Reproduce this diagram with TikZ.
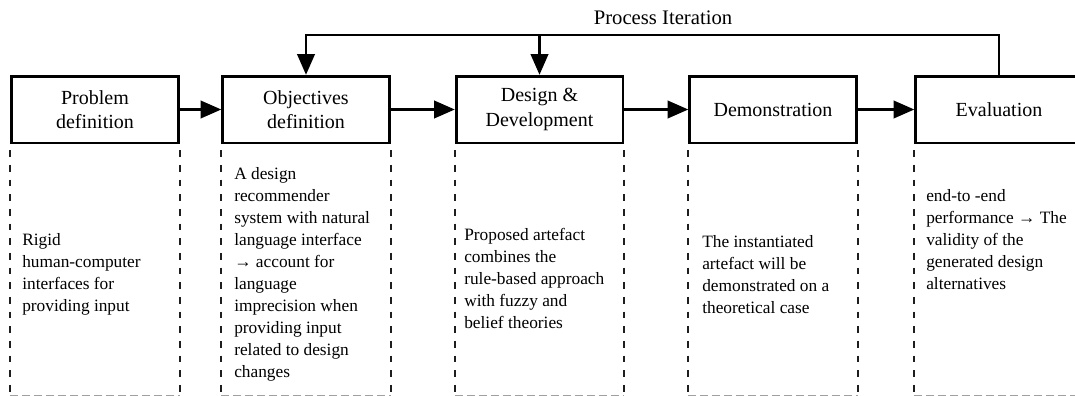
\documentclass[tikz,border=0pt]{standalone}
\usepackage{fontspec}
\setmainfont{Liberation Serif}
\usetikzlibrary{arrows.meta}
\definecolor{LaneClr}{RGB}{30,30,30}
\definecolor{FloorClr}{RGB}{160,160,160}

\begin{document}
\begin{tikzpicture}[x=0.75pt,y=-0.75pt,
  stage/.style={draw,line width=2pt,minimum width=125pt,minimum height=50pt,
    align=center,inner sep=0pt,font=\fontsize{15}{18.5}\selectfont},
  note/.style={anchor=west,align=left,inner sep=0pt,
    font=\fontsize{13}{16.5}\selectfont},
  flow/.style={line width=2pt,-{Triangle[length=15.5pt,width=13pt]}},
  lane/.style={line width=1.6pt,color=LaneClr,dash pattern=on 5pt off 6pt},
  floor/.style={line width=1.5pt,color=FloorClr,dash pattern=on 6pt off 3pt}]

\useasboundingbox (0,0) rectangle (1075,396);
\clip (0,0) rectangle (1075,396);

\coordinate (top) at (0,35);
\coordinate (low) at (0,395.5);

\node[stage] (A) at (95,109.5) {Problem\\definition};
\node[stage] (B) at (306,109.5) {Objectives\\definition};
\node[stage] (C) at (539.5,109.5) {Design \&\\Development};
\node[stage] (D) at (773,109.5) {Demonstration};
\node[stage] (E) at (999,109.5) {Evaluation};

\node[font=\fontsize{15.5}{18}\selectfont] (iter) at (663,18) {Process Iteration};

\draw[flow] (A) -- (B);
\draw[flow] (B) -- (C);
\draw[flow] (C) -- (D);
\draw[flow] (D) -- (E);

\draw[flow] (E.north) |- (B.north |- top) -- (B.north);
\draw[flow] (C.north |- top) -- (C.north);

\foreach \s in {A,B,C,D,E}{
  \draw[lane] ([yshift=-4.5pt]\s.south west) -- (\s.south west |- low);
  \draw[lane] ([yshift=-4.5pt]\s.south east) -- (\s.south east |- low);
  \draw[floor] (\s.south west |- low) -- (\s.south east |- low);
}

\node[note] (a) at (22,274.5) {Rigid\\human-computer\\interfaces for\\providing input};
\node[note] (b) at (234,274) {A design\\recommender\\system with natural\\language interface\\→ account for\\language\\imprecision when\\providing input\\related to design\\changes};
\node[note] (c) at (464,278) {Proposed artefact\\combines the\\rule-based approach\\with fuzzy and\\belief theories};
\node[note] (d) at (702,275) {The instantiated\\artefact will be\\demonstrated on a\\theoretical case};
\node[note] (e) at (926,240) {end-to -end\\performance → The\\validity of the\\generated design\\alternatives};

\end{tikzpicture}
\end{document}
